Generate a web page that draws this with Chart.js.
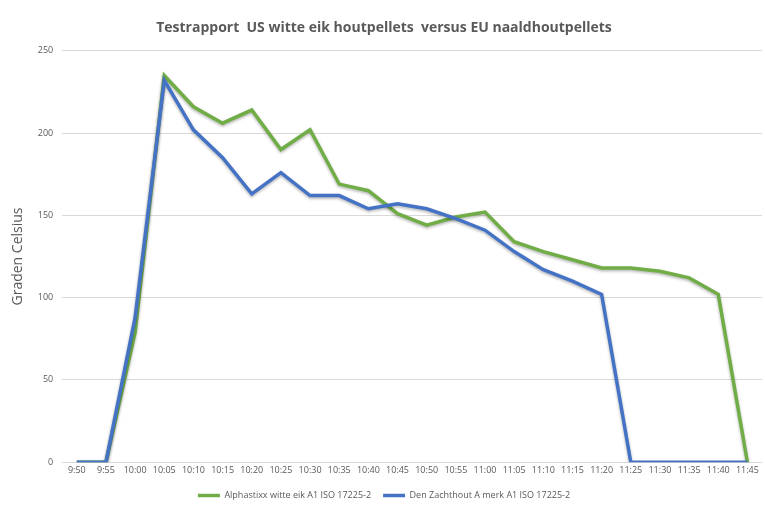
<!DOCTYPE html>
<html>
<head>
<meta charset="utf-8">
<script src="https://cdn.jsdelivr.net/npm/chart.js@4/dist/chart.umd.min.js"></script>
<style>
  html, body { margin: 0; padding: 0; background: #fff; }
  #wrap { width: 765px; height: 506px; }
</style>
</head>
<body>
<div id="wrap"><canvas id="myChart"></canvas></div>
<script>
const tijden = ["9:50", "9:55", "10:00", "10:05", "10:10", "10:15", "10:20", "10:25", "10:30", "10:35", "10:40", "10:45",
    "10:50", "10:55", "11:00", "11:05", "11:10", "11:15", "11:20", "11:25", "11:30", "11:35", "11:40", "11:45"];
const alphastixx = [0, 0, 79, 235, 216, 206, 214, 190, 202, 169, 165, 151,
    144, 149, 152, 134, 128, 123, 118, 118, 116, 112, 102, 0];
const zachthout = [0, 0, 88, 232, 202, 185, 163, 176, 162, 162, 154, 157,
    154, 148, 141, 128, 117, 110, 102, 0, 0, 0, 0, 0];
const yTicks = [0, 50, 100, 150, 200, 250];

// zachte schaduw onder de lijnen, zoals in Excel
const lijnSchaduw = {
    id: "lijnSchaduw",
    beforeDatasetsDraw: function (chart) {
        const c = chart.ctx;
        c.save();
        c.shadowColor = "rgba(0, 0, 0, 0.3)";
        c.shadowBlur = 3;
        c.shadowOffsetY = 1.5;
    },
    afterDatasetsDraw: function (chart) {
        chart.ctx.restore();
    },
};

document.addEventListener("DOMContentLoaded", function () {
    const ctx = document.getElementById("myChart").getContext("2d");

    const myChart = new Chart(ctx, {
        type: "line",
        data: {
            labels: tijden,
            datasets: [
                {
                    label: "Alphastixx witte eik A1 ISO 17225-2",
                    data: alphastixx,
                    borderColor: "#70ad47",
                    backgroundColor: "#70ad47",
                    borderWidth: 3.5,
                    pointRadius: 0,
                    tension: 0,
                    order: 2,
                },
                {
                    label: "Den Zachthout A merk A1 ISO 17225-2",
                    data: zachthout,
                    borderColor: "#4472c4",
                    backgroundColor: "#4472c4",
                    borderWidth: 3.5,
                    pointRadius: 0,
                    tension: 0,
                    order: 1,
                },
            ],
        },
        options: {
            responsive: true,
            maintainAspectRatio: false,
            animation: false,
            layout: { padding: { left: 6, right: 3, top: 6, bottom: -4 } },
            plugins: {
                title: {
                    display: true,
                    text: "Testrapport  US witte eik houtpellets  versus EU naaldhoutpellets",
                    color: "#595959",
                    font: { family: "Open Sans", size: 14, weight: "bold" },
                    padding: { top: 14, bottom: 14 },
                },
                legend: {
                    position: "bottom",
                    labels: {
                        usePointStyle: true,
                        pointStyle: "line",
                        pointStyleWidth: 22,
                        color: "#595959",
                        font: { family: "Open Sans", size: 9 },
                        padding: 12,
                        sort: function (a, b) { return a.datasetIndex - b.datasetIndex; },
                    },
                },
                tooltip: { enabled: false },
            },
            scales: {
                x: {
                    offset: true,
                    grid: { display: false, drawTicks: false },
                    border: { display: false },
                    ticks: {
                        color: "#595959",
                        font: { family: "Open Sans", size: 9 },
                        maxRotation: 0,
                        autoSkip: false,
                        padding: 3,
                    },
                },
                y: {
                    min: 0,
                    max: 250,
                    afterBuildTicks: function (axis) {
                        axis.ticks = yTicks.map(function (v) { return { value: v }; });
                    },
                    grid: { color: "#d9d9d9", drawTicks: false },
                    border: { display: false },
                    ticks: {
                        color: "#595959",
                        font: { family: "Open Sans", size: 9 },
                        padding: 9,
                    },
                    title: {
                        display: true,
                        text: "Graden Celsius",
                        color: "#595959",
                        font: { family: "Open Sans", size: 14 },
                        padding: { bottom: 2 },
                    },
                },
            },
        },
        plugins: [lijnSchaduw],
    });
});
</script>
</body>
</html>
